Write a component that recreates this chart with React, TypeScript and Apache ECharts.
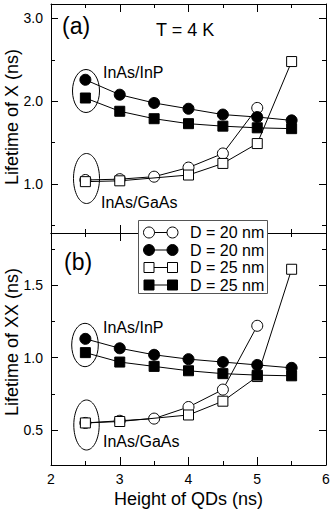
import React, { useEffect, useRef } from "react";
import * as echarts from "echarts";

// ---- data ----
const HEIGHTS = [2.5, 3, 3.5, 4, 4.5, 5, 5.5];
const HEIGHTS_GAAS_D20 = [2.5, 3, 3.5, 4, 4.5, 5];
const HEIGHTS_GAAS_D25 = [2.5, 3, 4, 4.5, 5, 5.5];

// (a) Lifetime of X
const X_INP_D20 = [2.26, 2.08, 1.98, 1.91, 1.84, 1.81, 1.77];
const X_INP_D25 = [2.04, 1.88, 1.79, 1.73, 1.7, 1.68, 1.67];
const X_GAAS_D20 = [1.05, 1.06, 1.09, 1.2, 1.37, 1.92];
const X_GAAS_D25 = [1.03, 1.04, 1.11, 1.25, 1.49, 2.48];

// (b) Lifetime of XX
const XX_INP_D20 = [1.13, 1.065, 1.02, 0.99, 0.97, 0.95, 0.93];
const XX_INP_D25 = [1.035, 0.97, 0.94, 0.91, 0.89, 0.88, 0.875];
const XX_GAAS_D20 = [0.55, 0.565, 0.58, 0.66, 0.78, 1.22];
const XX_GAAS_D25 = [0.55, 0.56, 0.605, 0.7, 0.87, 1.61];

const X_TICKS_A = [1.0, 2.0, 3.0];
const X_MINOR_A = [0.5, 1.5, 2.5];
const X_TICKS_B = [0.5, 1.0, 1.5];
const X_MINOR_B = [0.75, 1.25, 1.75];

const LEGEND_LABELS = ["D = 20 nm", "D = 20 nm", "D = 25 nm", "D = 25 nm"];

const FONT = '"Liberation Sans", Arial, Helvetica, sans-serif';
const BLACK = "#000";

const zip = (xs: number[], ys: number[]) => xs.map((x, i) => [x, ys[i]]);

function yAxes(gridIndex: number, min: number, max: number, majors: number[], minors: number[]) {
  const line = { show: true, lineStyle: { color: BLACK, width: 1 } };
  const common = { gridIndex, type: "value", min, max, splitLine: { show: false } };
  return [
    {
      ...common,
      position: "left",
      axisLine: line,
      axisTick: { show: true, inside: true, length: 7, customValues: majors, lineStyle: { color: BLACK } },
      axisLabel: {
        show: true,
        customValues: majors,
        formatter: (v: number) => v.toFixed(1),
        fontSize: 14,
        margin: 8,
        color: BLACK,
        fontFamily: FONT,
      },
    },
    {
      ...common,
      position: "left",
      axisLine: { show: false },
      axisTick: { show: true, inside: true, length: 4, customValues: minors, lineStyle: { color: BLACK } },
      axisLabel: { show: false },
    },
    {
      ...common,
      position: "right",
      axisLine: line,
      axisTick: { show: true, inside: true, length: 7, customValues: majors, lineStyle: { color: BLACK } },
      axisLabel: { show: false },
    },
    {
      ...common,
      position: "right",
      axisLine: { show: false },
      axisTick: { show: true, inside: true, length: 4, customValues: minors, lineStyle: { color: BLACK } },
      axisLabel: { show: false },
    },
  ];
}

function xAxes(gridIndex: number, showLabels: boolean) {
  const common = {
    gridIndex,
    type: "value",
    min: 2,
    max: 6,
    interval: 1,
    splitLine: { show: false },
    minorSplitLine: { show: false },
    axisLine: { show: true, lineStyle: { color: BLACK, width: 1 } },
    axisTick: { show: true, inside: true, length: 8, lineStyle: { color: BLACK } },
    minorTick: { show: true, splitNumber: 2, length: 4, lineStyle: { color: BLACK } },
  };
  return [
    {
      ...common,
      position: "bottom",
      name: showLabels ? "Height of QDs (ns)" : "",
      nameLocation: "middle",
      nameGap: 25,
      nameTextStyle: { fontSize: 18, color: BLACK, fontFamily: FONT },
      axisLabel: { show: showLabels, fontSize: 14, margin: 7, color: BLACK, fontFamily: FONT },
    },
    { ...common, position: "top", axisLabel: { show: false } },
  ];
}

function makeSeries(xi: number, yi: number, name: string, data: number[][], symbol: string, filled: boolean, z: number) {
  return {
    type: "line",
    name,
    xAxisIndex: xi,
    yAxisIndex: yi,
    data,
    symbol,
    symbolSize: symbol === "circle" ? 11 : 10,
    showAllSymbol: true,
    z,
    lineStyle: { color: BLACK, width: 1 },
    itemStyle: { color: filled ? BLACK : "#fff", borderColor: BLACK, borderWidth: 1, opacity: 1 },
    emphasis: { disabled: true },
  };
}

function legendGraphic() {
  const els: any[] = [
    {
      type: "rect",
      shape: { x: 138.5, y: 220.5, width: 129, height: 73 },
      style: { fill: "#fff", stroke: "#555", lineWidth: 1 },
      z: 100,
    },
  ];
  const rowsY = [232.5, 250, 267.5, 285];
  const kinds = [
    { sym: "circle", filled: false },
    { sym: "circle", filled: true },
    { sym: "rect", filled: false },
    { sym: "rect", filled: true },
  ];
  rowsY.forEach((y, i) => {
    const k = kinds[i];
    const x1 = 149;
    const x2 = 172.5;
    els.push({ type: "line", shape: { x1, y1: y, x2, y2: y }, style: { stroke: BLACK, lineWidth: 1 }, z: 101 });
    [x1, x2].forEach((cx) => {
      const style = { fill: k.filled ? BLACK : "#fff", stroke: BLACK, lineWidth: 1 };
      if (k.sym === "circle") {
        els.push({ type: "circle", shape: { cx, cy: y, r: 5.5 }, style, z: 102 });
      } else {
        els.push({ type: "rect", shape: { x: cx - 5, y: y - 5, width: 10, height: 10 }, style, z: 102 });
      }
    });
    els.push({
      type: "text",
      x: 190,
      y,
      style: { text: LEGEND_LABELS[i], fontSize: 16, fontFamily: FONT, fill: BLACK, verticalAlign: "middle", align: "left" },
      z: 102,
    });
  });
  return els;
}

function annotations() {
  const txt = (text: string, x: number, y: number, size: number) => ({
    type: "text",
    x,
    y,
    style: { text, fontSize: size, fontFamily: FONT, fill: BLACK, verticalAlign: "middle", align: "left" },
    z: 50,
  });
  const vtxt = (text: string, x: number, y: number) => ({
    type: "text",
    x,
    y,
    rotation: Math.PI / 2,
    style: { text, fontSize: 18, fontFamily: FONT, fill: BLACK, verticalAlign: "middle", align: "center" },
    z: 50,
  });
  const ell = (cx: number, cy: number, rx: number, ry: number) => ({
    type: "ellipse",
    shape: { cx, cy, rx, ry },
    style: { fill: "none", stroke: BLACK, lineWidth: 1 },
    z: 50,
  });
  return [
    vtxt("Lifetime of X (ns)", 11.5, 117),
    vtxt("Lifetime of XX (ns)", 11.5, 342),
    txt("(a)", 62, 26, 23),
    txt("T = 4 K", 156, 30, 18),
    txt("InAs/InP", 103, 72, 16),
    txt("InAs/GaAs", 101, 202, 16),
    txt("(b)", 64, 262, 23),
    txt("InAs/InP", 103, 327, 16),
    txt("InAs/GaAs", 103, 441, 16),
    ell(86, 91, 13.5, 21.5),
    ell(86.5, 178.5, 13, 25),
    ell(85, 345, 13.3, 21.7),
    ell(86.5, 425, 12.7, 25),
  ];
}

export default function App() {
  const ref = useRef<HTMLDivElement>(null);
  useEffect(() => {
    if (!ref.current) return;
    const chart = echarts.init(ref.current, null, { renderer: "svg" });
    const option = {
      animation: false,
      backgroundColor: "#fff",
      textStyle: { fontFamily: FONT },
      grid: [
        { left: 51, top: 4, width: 275, height: 229, containLabel: false, outerBoundsMode: "none" },
        { left: 51, top: 233, width: 275, height: 232, containLabel: false, outerBoundsMode: "none" },
      ],
      xAxis: [...xAxes(0, false), ...xAxes(1, true)],
      yAxis: [
        ...yAxes(0, 0.41, 3.175, X_TICKS_A, X_MINOR_A),
        ...yAxes(1, 0.26, 1.86, X_TICKS_B, X_MINOR_B),
      ],
      series: [
        makeSeries(0, 0, "X GaAs D20", zip(HEIGHTS_GAAS_D20, X_GAAS_D20), "circle", false, 2),
        makeSeries(0, 0, "X GaAs D25", zip(HEIGHTS_GAAS_D25, X_GAAS_D25), "rect", false, 3),
        makeSeries(0, 0, "X InP D20", zip(HEIGHTS, X_INP_D20), "circle", true, 4),
        makeSeries(0, 0, "X InP D25", zip(HEIGHTS, X_INP_D25), "rect", true, 5),
        makeSeries(2, 4, "XX GaAs D20", zip(HEIGHTS_GAAS_D20, XX_GAAS_D20), "circle", false, 2),
        makeSeries(2, 4, "XX GaAs D25", zip(HEIGHTS_GAAS_D25, XX_GAAS_D25), "rect", false, 3),
        makeSeries(2, 4, "XX InP D20", zip(HEIGHTS, XX_INP_D20), "circle", true, 4),
        makeSeries(2, 4, "XX InP D25", zip(HEIGHTS, XX_INP_D25), "rect", true, 5),
      ],
      graphic: [...annotations(), ...legendGraphic()],
    };
    chart.setOption(option as any);
    return () => chart.dispose();
  }, []);
  return (
    <div
      ref={ref}
      style={{ position: "absolute", left: 0, top: 0, width: 332, height: 509, background: "#fff" }}
    />
  );
}
